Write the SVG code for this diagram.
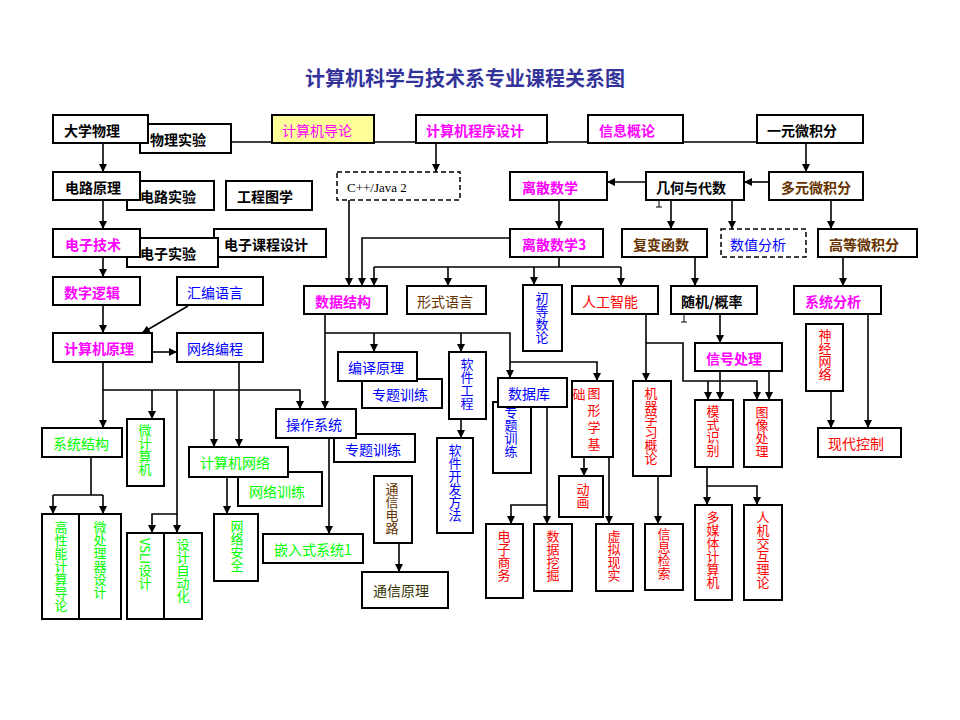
<svg xmlns="http://www.w3.org/2000/svg" width="960" height="720" viewBox="0 0 960 720">
<style>
.b{fill:#fff;stroke:#000;stroke-width:2}
.y{fill:#ffff99;stroke:#000;stroke-width:2}
.d{fill:#fff;stroke:#000;stroke-width:1.5;stroke-dasharray:5,3}
.c path{fill:none;stroke:#000;stroke-width:1.6}
.c path.a{marker-end:url(#ah)}
text{font-family:"Noto Sans CJK SC","Noto Sans CJK TC",sans-serif;font-size:14px;dominant-baseline:central}
.bd{font-weight:bold}
.v{writing-mode:vertical-rl;font-size:13px;dominant-baseline:auto}
.m{fill:#ff00ff}.bl{fill:#0000ff}.r{fill:#ff0000}.g{fill:#00ff00}.br{fill:#663300}.k{fill:#000}.o{fill:#333300}
</style>
<defs>
<marker id="ah" markerUnits="userSpaceOnUse" markerWidth="8" markerHeight="8" viewBox="0 0 8 8" refX="8" refY="4" orient="auto"><path d="M0,0 L8,4 L0,8 z" fill="#000"/></marker>
</defs>
<rect width="960" height="720" fill="#fff"/>
<text x="465" y="77" text-anchor="middle" style="font-size:20px;font-weight:bold;fill:#333399">计算机科学与技术系专业课程关系图</text>

<g id="connectors" class="c">
<path d="M231,142 H757"/>
<path class="a" d="M103,143 V172"/>
<path class="a" d="M103,200 V229"/>
<path class="a" d="M103,257 V277"/>
<path class="a" d="M103,305 V333"/>
<path class="a" d="M188,306 L142,333"/>
<path class="a" d="M152,352 H177"/>
<path class="a" d="M103,362 V428"/>
<path class="a" d="M103,390 H300 V409"/>
<path class="a" d="M152,390 V419"/>
<path class="a" d="M177,390 V514 H152 V533"/>
<path class="a" d="M177,514 V533"/>
<path class="a" d="M214,390 V447"/>
<path class="a" d="M239,362 V447"/>
<path d="M91,457 V495 M53,495 H103"/>
<path class="a" d="M53,495 V514"/>
<path class="a" d="M103,495 V514"/>
<path class="a" d="M227,477 V514"/>
<path class="a" d="M329,438 V534"/>
<path class="a" d="M436,143 V172"/>
<path class="a" d="M349,200 V286"/>
<path class="a" d="M510,238 H362 V286"/>
<path d="M559,257 V267 M374,267 H621"/>
<path class="a" d="M374,267 V286"/>
<path class="a" d="M448,267 V286"/>
<path class="a" d="M534,267 V285"/>
<path class="a" d="M621,267 V286"/>
<path class="a" d="M559,200 V229"/>
<path class="a" d="M646,182 H607"/>
<path class="a" d="M769,182 H744"/>
<path class="a" d="M806,143 V172"/>
<path class="a" d="M671,200 V229"/>
<path class="a" d="M732,200 V229"/>
<path class="a" d="M831,200 V229"/>
<path class="a" d="M695,257 V286"/>
<path class="a" d="M843,257 V286"/>
<path class="a" d="M325,314 V409"/>
<path class="a" d="M325,333 H510 V378"/>
<path class="a" d="M374,333 V352"/>
<path class="a" d="M461,333 V352"/>
<path class="a" d="M510,362 H597 V381"/>
<path class="a" d="M461,419 V438"/>
<path class="a" d="M547,407 V524"/>
<path class="a" d="M547,505 H511 V524"/>
<path class="a" d="M584,457 V476"/>
<path class="a" d="M609,457 V524"/>
<path class="a" d="M399,543 V572"/>
<path class="a" d="M646,314 V381"/>
<path class="a" d="M646,343 H683 V381 H757 V400"/>
<path class="a" d="M708,381 V400"/>
<path class="a" d="M720,314 V343"/>
<path class="a" d="M720,371 V400"/>
<path class="a" d="M769,371 V400"/>
<path class="a" d="M658,476 V524"/>
<path class="a" d="M707,467 V505"/>
<path class="a" d="M707,486 H757 V505"/>
<path class="a" d="M868,314 V428"/>
<path class="a" d="M831,391 V428"/>
<path style="stroke-width:1" d="M656,199 H662 M659,199 V207 M656,207 H662"/>
<path style="stroke-width:1" d="M681,314 H687 M684,314 V322 M681,322 H687"/>
</g>

<g id="wlsy"><rect class="b" x="140" y="124" width="91" height="29"/><text x="150" y="139" class="bd k">物理实验</text></g>
<g id="dxwl"><rect class="b" x="53" y="115" width="95" height="28"/><text x="64" y="130" class="bd k">大学物理</text></g>
<g id="jsjdl"><rect class="y" x="272" y="115" width="102" height="28"/><text x="282" y="130" class="m">计算机导论</text></g>
<g id="jsjcxsj"><rect class="b" x="416" y="115" width="131" height="28"/><text x="426" y="130" class="bd m">计算机程序设计</text></g>
<g id="xxgl"><rect class="b" x="588" y="115" width="95" height="28"/><text x="599" y="130" class="bd m">信息概论</text></g>
<g id="yywjf"><rect class="b" x="757" y="115" width="106" height="28"/><text x="767" y="130" class="bd k">一元微积分</text></g>
<g id="dlsy"><rect class="b" x="127" y="181" width="87" height="29"/><text x="140" y="196" class="bd k">电路实验</text></g>
<g id="dlyl"><rect class="b" x="53" y="172" width="87" height="28"/><text x="65" y="187" class="bd k">电路原理</text></g>
<g id="gctx"><rect class="b" x="226" y="181" width="86" height="29"/><text x="237" y="196" class="bd k">工程图学</text></g>
<g id="cpp"><rect class="d" x="337" y="172" width="123" height="28"/><text x="347" y="187" class="k" style="font-family:'Liberation Serif',serif;font-size:13px">C++/Java 2</text></g>
<g id="lssx"><rect class="b" x="510" y="172" width="97" height="28"/><text x="522" y="187" class="bd m">离散数学</text></g>
<g id="jhyds"><rect class="b" x="646" y="172" width="98" height="28"/><text x="656" y="187" class="bd k">几何与代数</text></g>
<g id="dywjf"><rect class="b" x="769" y="172" width="94" height="28"/><text x="781" y="187" class="bd br">多元微积分</text></g>
<g id="dzkcsj"><rect class="b" x="214" y="229" width="112" height="28"/><text x="224" y="244" class="bd k">电子课程设计</text></g>
<g id="dzsy"><rect class="b" x="127" y="238" width="91" height="29"/><text x="140" y="253" class="bd k">电子实验</text></g>
<g id="dzjs"><rect class="b" x="53" y="229" width="87" height="28"/><text x="65" y="244" class="bd m">电子技术</text></g>
<g id="lssx3"><rect class="b" x="510" y="229" width="93" height="28"/><text x="522" y="244" class="bd m">离散数学3</text></g>
<g id="fbhs"><rect class="b" x="622" y="229" width="85" height="28"/><text x="633" y="244" class="bd br">复变函数</text></g>
<g id="szfx"><rect class="d" x="721" y="229" width="85" height="28"/><text x="730" y="244" class="bl">数值分析</text></g>
<g id="gdwjf"><rect class="b" x="818" y="229" width="99" height="28"/><text x="829" y="244" class="bd br">高等微积分</text></g>
<g id="szlj"><rect class="b" x="53" y="277" width="87" height="28"/><text x="64" y="292" class="bd m">数字逻辑</text></g>
<g id="hbyy"><rect class="b" x="177" y="277" width="86" height="28"/><text x="187" y="292" class="bl">汇编语言</text></g>
<g id="sjjg"><rect class="b" x="304" y="286" width="83" height="28"/><text x="315" y="301" class="bd m">数据结构</text></g>
<g id="xsyy"><rect class="b" x="407" y="286" width="79" height="28"/><text x="417" y="301" class="br">形式语言</text></g>
<g id="cdsl"><rect class="b" x="523" y="285" width="39" height="66"/><text x="542" y="292" class="v bl">初等数论</text></g>
<g id="rgzn"><rect class="b" x="572" y="286" width="86" height="28"/><text x="582" y="301" class="r">人工智能</text></g>
<g id="sjgl"><rect class="b" x="671" y="286" width="86" height="28"/><text x="681" y="301" class="bd k">随机/概率</text></g>
<g id="xtfx"><rect class="b" x="794" y="286" width="87" height="28"/><text x="805" y="301" class="bd m">系统分析</text></g>
<g id="jsjyl"><rect class="b" x="53" y="333" width="99" height="29"/><text x="64" y="348" class="bd m">计算机原理</text></g>
<g id="wlbc"><rect class="b" x="177" y="333" width="86" height="29"/><text x="187" y="348" class="bl">网络编程</text></g>
<g id="ztxl1"><rect class="b" x="362" y="379" width="80" height="29"/><text x="372" y="394" class="bl">专题训练</text></g>
<g id="byyl"><rect class="b" x="338" y="352" width="79" height="29"/><text x="348" y="367" class="bl">编译原理</text></g>
<g id="rjgc"><rect class="b" x="449" y="352" width="37" height="67"/><text x="467" y="358" class="v bl">软件工程</text></g>
<g id="ztxl3"><rect class="b" x="493" y="402" width="38" height="71"/><text x="511" y="406" class="v bl">专题训练</text></g>
<g id="sjk"><rect class="b" x="498" y="378" width="69" height="29"/><text x="508" y="393" class="bl">数据库</text></g>
<g id="txxjc"><rect class="b" x="572" y="381" width="41" height="76"/><text x="579" y="393" text-anchor="middle" class="r" style="font-size:13px">础</text><text x="594" y="387" class="v r" style="letter-spacing:4px">图形学基</text></g>
<g id="jqxxgl"><rect class="b" x="633" y="381" width="38" height="95"/><text x="651" y="387" class="v r">机器学习概论</text></g>
<g id="xhcl"><rect class="b" x="695" y="343" width="87" height="28"/><text x="706" y="358" class="bd m">信号处理</text></g>
<g id="mssb"><rect class="b" x="695" y="400" width="38" height="67"/><text x="713" y="405" class="v r">模式识别</text></g>
<g id="txcl"><rect class="b" x="744" y="400" width="38" height="67"/><text x="762" y="406" class="v r">图像处理</text></g>
<g id="sjwl"><rect class="b" x="806" y="324" width="37" height="67"/><text x="825" y="329" class="v r">神经网络</text></g>
<g id="xdkz"><rect class="b" x="818" y="428" width="83" height="29"/><text x="828" y="443" class="r">现代控制</text></g>
<g id="xtjg"><rect class="b" x="42" y="428" width="80" height="29"/><text x="53" y="443" class="g">系统结构</text></g>
<g id="wjsj"><rect class="b" x="127" y="419" width="37" height="67"/><text x="145" y="424" class="v g">微计算机</text></g>
<g id="ztxl2"><rect class="b" x="334" y="434" width="81" height="28"/><text x="345" y="449" class="bl">专题训练</text></g>
<g id="czxt"><rect class="b" x="276" y="409" width="80" height="29"/><text x="286" y="424" class="bl">操作系统</text></g>
<g id="wlxl"><rect class="b" x="238" y="472" width="84" height="34"/><text x="249" y="491" class="g">网络训练</text></g>
<g id="jsjwl"><rect class="b" x="189" y="447" width="99" height="30"/><text x="200" y="462" class="g">计算机网络</text></g>
<g id="wlaq"><rect class="b" x="214" y="514" width="44" height="67"/><text x="237" y="520" class="v g">网络安全</text></g>
<g id="qrsxt"><rect class="b" x="263" y="534" width="100" height="29"/><text x="274" y="549" class="g">嵌入式系统1</text></g>
<g id="rjkffa"><rect class="b" x="437" y="438" width="36" height="95"/><text x="455" y="444" class="v bl">软件开发方法</text></g>
<g id="txdl"><rect class="b" x="374" y="476" width="38" height="67"/><text x="392" y="483" class="v br">通信电路</text></g>
<g id="txyl"><rect class="b" x="362" y="572" width="86" height="36"/><text x="373" y="590" class="o">通信原理</text></g>
<g id="dh"><rect class="b" x="559" y="476" width="44" height="41"/><text x="583" y="483" class="v r">动画</text></g>
<g id="dzsw"><rect class="b" x="486" y="524" width="37" height="74"/><text x="504" y="530" class="v r">电子商务</text></g>
<g id="sjwj"><rect class="b" x="534" y="524" width="38" height="67"/><text x="553" y="530" class="v r">数据挖掘</text></g>
<g id="xnxs"><rect class="b" x="596" y="524" width="37" height="67"/><text x="614" y="530" class="v r">虚拟现实</text></g>
<g id="xxjs"><rect class="b" x="645" y="524" width="38" height="66"/><text x="664" y="528" class="v r">信息检索</text></g>
<g id="dmtjsj"><rect class="b" x="695" y="505" width="37" height="95"/><text x="713" y="511" class="v r">多媒体计算机</text></g>
<g id="rjjhll"><rect class="b" x="744" y="505" width="38" height="95"/><text x="763" y="511" class="v r">人机交互理论</text></g>
<g id="gxnjs"><rect class="b" x="42" y="514" width="37" height="105"/><text x="61" y="521" class="v g">高性能计算导论</text></g>
<g id="wclqsj"><rect class="b" x="79" y="514" width="42" height="105"/><text x="100" y="521" class="v g">微处理器设计</text></g>
<g id="vsli"><rect class="b" x="127" y="533" width="37" height="86"/><text x="145" y="538" class="v g">VSLI设计</text></g>
<g id="sjzdh"><rect class="b" x="164" y="533" width="38" height="86"/><text x="183" y="538" class="v g">设计自动化</text></g>
</svg>
